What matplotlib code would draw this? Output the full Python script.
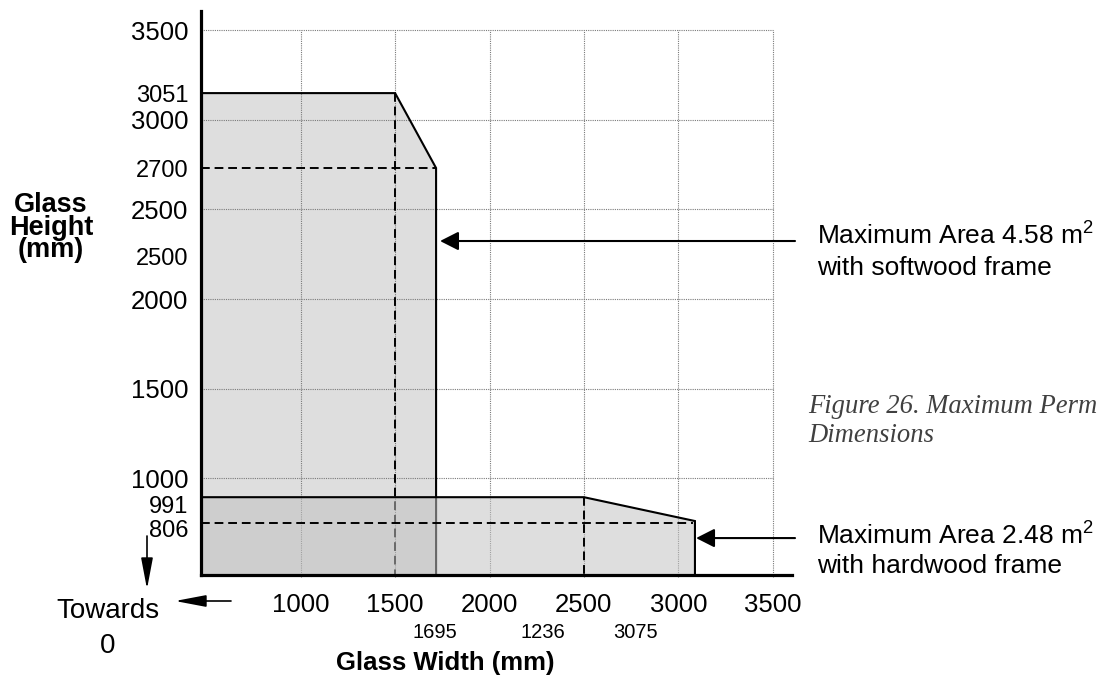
import matplotlib
matplotlib.use('Agg')
import matplotlib.pyplot as plt
from matplotlib.transforms import blended_transform_factory

plt.rcParams['font.family'] = ['Liberation Sans', 'DejaVu Sans']
plt.rcParams['mathtext.fontset'] = 'custom'
plt.rcParams['mathtext.rm'] = 'Liberation Sans'
plt.rcParams['mathtext.it'] = 'Liberation Sans:italic'
plt.rcParams['mathtext.bf'] = 'Liberation Sans:bold'

# ---------------- data (values as drawn on the chart's grid) ----------------
x_range = [472, 3602]
y_range = [461, 3607]
grid_ticks = [1000, 1500, 2000, 2500, 3000, 3500]
xtick_labels = ['1000', '1500', '2000', '2500', '3000', '3500']

# softwood frame envelope
soft_x = [472, 1500, 1717, 1717]
soft_y = [3149, 3149, 2731, 461]
soft_ref_width = 1500
soft_ref_height = 2731

# hardwood frame envelope
hard_x = [472, 2500, 3088, 3088]
hard_y = [895, 895, 762, 461]
hard_ref_width = 2500
hard_ref_height = 751
hard_ref_end = 3078

ytick_pos = [3500, 3149, 3000, 2731, 2500, 2240, 2000, 1500, 1000, 857, 723]
ytick_labels = ['3500', '3051', '3000', '2700', '2500', '2500', '2000', '1500', '1000', '991', '806']
ytick_sizes = [18.5, 17, 18.5, 17, 18.5, 17, 18.5, 18.5, 18.5, 17, 17]

xnote_pos = [1713, 2281, 2773]
xnote_labels = ['1695', '1236', '3075']

soft_arrow_y = 2324
soft_arrow_tip = 1738
hard_arrow_y = 667
hard_arrow_tip = 3094
arrow_start = 3618

W, H = 1102, 677


def px(x, y):
    return x / W, 1 - y / H


fig = plt.figure(figsize=(W / 100, H / 100), dpi=100)
ax = fig.add_axes([201 / W, 1 - 575 / H, (792 - 201) / W, (575 - 11) / H])
ax.set_xlim(*x_range)
ax.set_ylim(*y_range)

# softwood region
ax.fill(soft_x + [soft_x[0]], soft_y + [y_range[0]], color='#dedede', lw=0, zorder=1)
# grid (bounded to 3500)
ax.hlines(grid_ticks, x_range[0], grid_ticks[-1], colors='#7a7a7a',
          linestyles=(0, (1, 1)), lw=0.8, zorder=2)
ax.vlines(grid_ticks, y_range[0] - 12, grid_ticks[-1], colors='#7a7a7a',
          linestyles=(0, (1, 1)), lw=0.8, zorder=2, clip_on=False)

dash = (0, (4.5, 2.5))
ax.plot(soft_x, soft_y, color='black', lw=1.5, zorder=2.5, solid_joinstyle='miter')
ax.plot([x_range[0], soft_x[2]], [soft_ref_height, soft_ref_height], color='black',
        lw=1.4, ls=dash, zorder=2.5)
ax.plot([soft_ref_width, soft_ref_width], [soft_y[0], y_range[0]], color='black',
        lw=1.4, ls=dash, zorder=2.5)

# hardwood region (semi-transparent on top)
ax.fill(hard_x + [hard_x[0]], hard_y + [y_range[0]], color='#c2c2c2', alpha=0.54,
        lw=0, zorder=3)
ax.plot(hard_x, hard_y, color='black', lw=1.5, zorder=4, solid_joinstyle='miter')
ax.plot([x_range[0], hard_ref_end], [hard_ref_height, hard_ref_height], color='black',
        lw=1.4, ls=dash, zorder=4)
ax.plot([hard_ref_width, hard_ref_width], [hard_y[0], y_range[0]], color='black',
        lw=1.4, ls=dash, zorder=4)

# spines
for s in ['top', 'right']:
    ax.spines[s].set_visible(False)
for s in ['left', 'bottom']:
    ax.spines[s].set_linewidth(2.3)
    ax.spines[s].set_zorder(6)

ax.set_xticks(grid_ticks, xtick_labels)
ax.tick_params(axis='x', length=0, pad=13, labelsize=18.5)
ax.set_yticks(ytick_pos, ytick_labels)
ax.tick_params(axis='y', length=0, pad=9)
for lab, sz in zip(ax.get_yticklabels(), ytick_sizes):
    lab.set_fontsize(sz)

trans = blended_transform_factory(ax.transData, fig.transFigure)
for xp, lab in zip(xnote_pos, xnote_labels):
    ax.text(xp, 1 - 632 / H, lab, transform=trans, ha='center', va='center', fontsize=14.5)

# arrows to the regions
arrow_kw = dict(arrowstyle='-|>,head_length=0.75,head_width=0.38', mutation_scale=15,
                lw=1.5, color='black', shrinkA=0, shrinkB=0)
ax.annotate('', xy=(soft_arrow_tip, soft_arrow_y), xytext=(arrow_start, soft_arrow_y),
            arrowprops=arrow_kw, annotation_clip=False)
ax.annotate('', xy=(hard_arrow_tip, hard_arrow_y), xytext=(arrow_start, hard_arrow_y),
            arrowprops=arrow_kw, annotation_clip=False)

# "Towards 0" arrows
small_kw = dict(arrowstyle='-|>,head_length=1.9,head_width=0.36', mutation_scale=10,
                lw=1.2, color='black', shrinkA=0, shrinkB=0)
fig.add_artist(matplotlib.patches.FancyArrowPatch(
    posA=(147, H - 536), posB=(147, H - 589), transform=None, **small_kw))
fig.add_artist(matplotlib.patches.FancyArrowPatch(
    posA=(231, H - 601), posB=(175, H - 601), transform=None, **small_kw))

# texts
fig.text(*px(108, 618), 'Towards', ha='center', va='baseline', fontsize=20)
fig.text(*px(108, 653), '0', ha='center', va='baseline', fontsize=20)

fig.text(*px(51, 192), 'Glass\nHeight\n(mm)', ha='center', va='top', fontsize=19.5,
         fontweight='bold', multialignment='center', linespacing=0.83)

fig.text(*px(445, 670), 'Glass Width (mm)', ha='center', va='baseline', fontsize=18.5,
         fontweight='bold')

fig.text(*px(817, 245), r'Maximum Area 4.58 m$^2$', ha='left', va='baseline', fontsize=19)
fig.text(*px(817, 275), 'with softwood frame', ha='left', va='baseline', fontsize=19)
fig.text(*px(817, 545), r'Maximum Area 2.48 m$^2$', ha='left', va='baseline', fontsize=19)
fig.text(*px(817, 573), 'with hardwood frame', ha='left', va='baseline', fontsize=19)

fig.text(*px(808, 413), 'Figure 26. Maximum Perm', ha='left', va='baseline', fontsize=19.2,
         style='italic', family='Liberation Serif', color='#404040')
fig.text(*px(808, 442), 'Dimensions', ha='left', va='baseline', fontsize=19.2,
         style='italic', family='Liberation Serif', color='#404040')

fig.savefig('out.png', dpi=100)
